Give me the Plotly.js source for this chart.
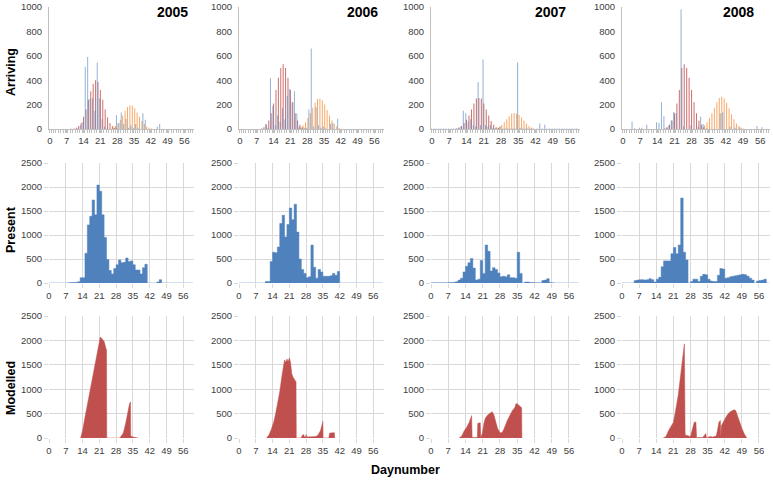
<!DOCTYPE html>
<html><head><meta charset="utf-8">
<script src="https://cdn.plot.ly/plotly-3.0.1.min.js"></script>
<style>html,body{margin:0;padding:0;background:#fff}#chart{width:773px;height:480px}</style>
</head><body><div id="chart"></div>
<script>
const days = [0,1,2,3,4,5,6,7,8,9,10,11,12,13,14,15,16,17,18,19,20,21,22,23,24,25,26,27,28,29,30,31,32,33,34,35,36,37,38,39,40,41,42,43,44,45,46,47,48,49,50,51,52,53,54,55,56,57,58,59];
const years = ['2005','2006','2007','2008'];
const xTicks = [0,7,14,21,28,35,42,49,56];

// Arriving (observed = blue, modelled wave 1 = red, modelled wave 2 = orange)
const arrBlue05 = [0,0,0,0,0,0,0,0,0,5, 0,0,10,30,60,510,590,250,250,150, 545,250,80,20,5,0,0,10,115,50, 135,40,85,10,30,10,40,10,0,130, 75,0,0,0,0,20,40,0,0,0, 0,0,0,0,0,0,0,0,0,0];
const arrRed05  = [0,0,0,0,0,0,0,0,0,0, 5,10,25,50,100,160,240,310,370,400, 385,320,240,160,95,50,25,10,5,0, 0,0,0,0,0,0,0,0,0,0, 0,0,0,0,0,0,0,0,0,0, 0,0,0,0,0,0,0,0,0,0];
const arrOra05  = [0,0,0,0,0,0,0,0,0,0, 0,0,0,0,0,0,0,0,0,0, 0,0,0,0,0,5,12,25,45,75, 110,150,180,195,190,170,135,100,65,40, 20,10,5,0,0,0,0,0,0,0, 0,0,0,0,0,0,0,0,0,0];

const arrBlue06 = [0,0,0,0,0,0,0,0,0,0, 5,40,10,415,190,30,110,60,170,80, 270,330,220,310,130,20,10,5,10,160, 660,20,180,30,10,20,5,0,40,50, 0,85,0,0,0,0,0,0,0,0, 0,0,0,0,0,0,0,0,0,0];
const arrRed06  = [0,0,0,0,0,0,0,0,0,5, 15,35,70,130,210,320,420,500,530,500, 420,320,220,130,70,35,15,5,0,0, 0,0,0,0,0,0,0,0,0,0, 0,0,0,0,0,0,0,0,0,0, 0,0,0,0,0,0,0,0,0,0];
const arrOra06  = [0,0,0,0,0,0,0,0,0,0, 0,0,0,0,0,0,0,0,0,0, 0,0,0,0,5,15,30,55,90,130, 175,215,245,250,235,200,155,110,70,40, 20,8,0,0,0,0,0,0,0,0, 0,0,0,0,0,0,0,0,0,0];

const arrBlue07 = [5,5,5,5,5,5,5,5,5,5, 5,10,20,150,130,60,80,30,20,385, 30,570,30,20,30,10,5,5,20,5, 5,5,5,5,5,545,10,5,5,5, 5,5,0,5,45,5,35,5,5,5, 5,5,5,5,5,5,5,5,5,5];
const arrRed07  = [0,0,0,0,0,0,0,0,0,0, 5,12,25,50,75,110,160,210,250,255, 250,210,160,110,65,35,15,8,0,0, 0,0,0,0,0,0,0,0,0,0, 0,0,0,0,0,0,0,0,0,0, 0,0,0,0,0,0,0,0,0,0];
const arrOra07  = [0,0,0,0,0,0,0,0,0,0, 0,0,0,0,0,0,0,0,0,0, 0,0,0,0,0,5,10,20,35,55, 80,105,125,132,128,115,95,70,45,25, 12,5,0,0,0,0,0,0,0,0, 0,0,0,0,0,0,0,0,0,0];

const arrBlue08 = [0,0,0,0,60,5,0,10,10,0, 35,0,0,0,55,50,220,105,10,30, 70,140,130,0,980,20,0,0,30,0, 0,20,100,40,0,0,0,0,0,0, 130,135,0,0,20,0,10,0,15,0, 0,0,0,0,0,25,0,15,0,0];
const arrRed08  = [0,0,0,0,0,0,0,0,0,0, 0,0,0,0,0,0,0,5,15,35, 70,130,210,320,500,530,500,420,320,220, 130,70,35,15,5,0,0,0,0,0, 0,0,0,0,0,0,0,0,0,0, 0,0,0,0,0,0,0,0,0,0];
const arrOra08  = [0,0,0,0,0,0,0,0,0,0, 0,0,0,0,0,0,0,0,0,0, 0,0,0,0,0,0,0,0,0,0, 0,5,15,30,55,90,130,175,220,255, 265,250,215,170,120,80,45,25,10,5, 0,0,0,0,0,0,0,0,0,0];

// Present
const pres05 = [0,0,0,0,0,0,0,0,5,10, 10,15,25,110,110,620,1210,1390,1730,1420, 2040,1910,1420,950,490,260,190,300,380,480, 420,430,520,450,460,380,270,270,190,320, 390,0,0,0,0,20,70,0,0,0, 0,0,0,0,0,0,0,0,0,0];
const pres06 = [0,0,0,0,0,0,0,0,0,0, 0,30,30,450,640,630,750,1240,1410,960, 1220,1560,1320,1640,1060,500,280,200,110,130, 790,330,100,280,230,140,140,140,150,200, 160,240,0,0,0,0,0,0,0,0, 0,0,0,0,0,0,0,0,0,0];
const pres07 = [5,5,5,5,5,5,5,10,10,15, 25,60,100,230,350,420,510,310,60,80, 470,200,790,660,250,320,280,210,130,140, 130,170,110,110,100,640,200,0,20,20, 10,10,5,5,5,50,60,90,10,5, 0,0,0,0,0,0,0,0,0,0];
const pres08 = [0,0,0,0,0,50,60,70,70,60, 70,90,70,20,80,120,340,460,460,460, 610,740,610,790,1770,640,480,0,30,80, 80,30,140,180,170,80,40,30,30,160, 300,290,100,110,130,140,150,160,170,180, 170,140,100,60,0,40,50,60,80,0];
const present = [pres05, pres06, pres07, pres08];
const arriving = [[arrBlue05,arrRed05,arrOra05],[arrBlue06,arrRed06,arrOra06],[arrBlue07,arrRed07,arrOra07],[arrBlue08,arrRed08,arrOra08]];

// Modelled (day, value)
const mod05x = [13.2,14,15,16,17,18,19,20,21,21.4,22,23,23.7,24,24.1,29.5,30,31,32,32.5,33,33.6,34,34.1,35,37,37.1];
const mod05y = [0,150,420,680,930,1210,1480,1760,2030,2070,2040,1980,1850,1800,0,0,30,100,300,450,580,700,740,40,20,10,0];
const mod06x = [11.5,12.5,13.5,14.5,15.3,16,17,18,18.6,19,19.5,20,20.5,21,21.5,22,22.5,23,23.8,23.9,26,26.3,27,27.3,27.8,28,28.3,32,33,34,34.5,35,35.1,37.5,37.8,39.8,39.9];
const mod06y = [0,60,180,330,500,680,950,1300,1550,1600,1550,1620,1560,1640,1550,1320,1250,1200,1150,0,0,50,70,20,20,70,20,30,60,150,250,340,0,0,100,110,0];
const mod07x = [11.4,12.5,13.5,14.5,15.5,16,16.5,16.7,18.8,19,20,20.2,20.9,21.5,22,23,24,24.8,25.5,26,27,28,28.8,29.5,30,31,32,33,34,34.5,35,35.5,36,36.5,36.8,36.9];
const mod07y = [0,40,150,220,320,380,460,10,10,300,310,10,100,300,400,470,520,540,480,400,200,110,110,170,240,360,460,560,620,700,700,680,650,640,620,0];
const mod08x = [16.8,18,19,20,20.5,21,21.7,22,23,24,25,25.5,25.8,26,27,27.5,28,28.8,29.5,30.2,30.5,31,33,33.6,34.3,34.5,36,37,38.5,39,39.6,40.2,40.4,40.6,41,42,43,44,45,46,46.5,47,48,49,50,51];
const mod08y = [0,30,150,230,260,320,500,580,880,1300,1800,1930,100,50,50,30,30,200,320,330,0,10,10,50,90,0,30,20,40,150,320,360,0,250,280,380,470,530,560,580,560,480,320,200,80,0];
const modX = [mod05x, mod06x, mod07x, mod08x];
const modY = [mod05y, mod06y, mod07y, mod08y];

const BLUE = '#4F81BD', RED = '#C0504D', ORANGE = '#F79646';
const GRID = '#D9D9D9', LINE = '#BFBFBF';

const colDom = [[49,194],[239,384],[431,580],[622,770]].map(d => [d[0]/773, d[1]/773]);
const rowDom = [[7,129],[163,283],[316,438]].map(d => [1 - d[1]/480, 1 - d[0]/480]);

const traces = [];
const layout = {
  width: 773, height: 480,
  margin: {l:0, r:0, t:0, b:0},
  paper_bgcolor: '#ffffff', plot_bgcolor: '#ffffff',
  showlegend: false, barmode: 'overlay',
  font: {family: 'Liberation Sans, Arial, sans-serif', size: 9.5, color: '#404040'},
  annotations: []
};

for (let r = 0; r < 3; r++) {
  for (let c = 0; c < 4; c++) {
    const idx = r*4 + c + 1;
    const sfx = idx === 1 ? '' : String(idx);
    const xa = 'x' + sfx, ya = 'y' + sfx;
    if (r === 0) {
      const offs = [-0.45, -0.15, 0.15];
      const cols = [BLUE, RED, ORANGE];
      [1,2,0].forEach(k => {
        traces.push({type:'bar', x: days, y: arriving[c][k], xaxis: xa, yaxis: ya,
          marker: {color: cols[k], line: {width: 0}}, width: 0.42, offset: offs[k] - 0.06,
          opacity: k === 0 ? 0.6 : 0.8, hoverinfo: 'skip'});
      });
      layout['xaxis' + sfx] = {domain: colDom[c], anchor: ya, range: [-0.4, 60],
        tickvals: xTicks, showgrid: false, zeroline: false, showline: true, linecolor: LINE, linewidth: 1,
        ticks: 'outside', ticklen: 3, tickcolor: LINE,
        minor: {dtick: 1, tick0: 0.5, ticks: 'outside', ticklen: 3, tickcolor: LINE, showgrid: false},
        fixedrange: true};
      layout['yaxis' + sfx] = {domain: rowDom[r], anchor: xa, range: [0, 1000], dtick: 200,
        showgrid: false, zeroline: false, showline: true, linecolor: LINE, linewidth: 1,
        ticks: 'outside', ticklen: 4, tickcolor: 'rgba(0,0,0,0)', fixedrange: true};
    } else {
      if (r === 1) {
        // gap-free columns drawn as a step-filled histogram (each day's value spans [d, d+1])
        traces.push({type:'scatter', mode: 'lines', x: days.concat([days.length]), y: present[c].concat([0]),
          xaxis: xa, yaxis: ya, line: {shape: 'hv', color: BLUE, width: 0.5},
          fill: 'tozeroy', fillcolor: BLUE, hoverinfo: 'skip'});
      } else {
        traces.push({type:'scatter', mode: 'lines', x: modX[c], y: modY[c], xaxis: xa, yaxis: ya,
          fill: 'tozeroy', fillcolor: RED, line: {color: RED, width: 0.5}, hoverinfo: 'skip'});
      }
      layout['xaxis' + sfx] = {domain: colDom[c], anchor: ya, range: [0, 60.5],
        tickvals: xTicks, showgrid: true, gridcolor: GRID, gridwidth: 1, zeroline: false, showline: false,
        ticks: 'outside', ticklen: 4, tickcolor: GRID, fixedrange: true};
      layout['yaxis' + sfx] = {domain: rowDom[r], anchor: xa, range: [0, 2500], dtick: 500,
        showgrid: true, gridcolor: GRID, gridwidth: 1, zeroline: false, showline: false,
        ticks: 'outside', ticklen: 4, tickcolor: GRID, fixedrange: true};
    }
  }
}

const yearX = [172, 362, 550, 738];
years.forEach((t, i) => layout.annotations.push({text: '<b>' + t + '</b>', xref: 'paper', yref: 'paper',
  x: yearX[i]/773, y: 1 - 12/480, xanchor: 'center', yanchor: 'middle', showarrow: false,
  font: {size: 14, color: '#000000', family: 'Liberation Sans, Arial, sans-serif'}}));

const rowTitles = ['Arriving', 'Present', 'Modelled'];
const rowTitleY = [72, 230, 388];
rowTitles.forEach((t, i) => layout.annotations.push({text: '<b>' + t + '</b>', xref: 'paper', yref: 'paper',
  x: 11/773, y: 1 - rowTitleY[i]/480, xanchor: 'center', yanchor: 'middle', textangle: -90, showarrow: false,
  font: {size: 12.5, color: '#000000', family: 'Liberation Sans, Arial, sans-serif'}}));

layout.annotations.push({text: '<b>Daynumber</b>', xref: 'paper', yref: 'paper',
  x: 405/773, y: 1 - 470/480, xanchor: 'center', yanchor: 'middle', showarrow: false,
  font: {size: 12.5, color: '#000000', family: 'Liberation Sans, Arial, sans-serif'}});

Plotly.newPlot('chart', traces, layout, {staticPlot: true, displayModeBar: false});
</script>
</body></html>
